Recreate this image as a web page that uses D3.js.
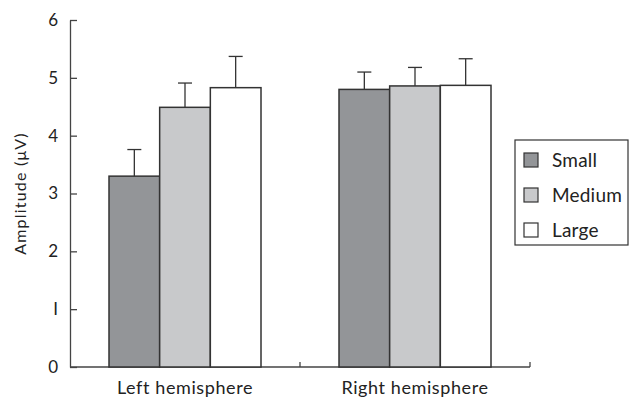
<!DOCTYPE html>
<html>
<head>
<meta charset="utf-8">
<script src="https://cdn.jsdelivr.net/npm/d3@7"></script>
<style>
  body { margin: 0; background: #fff; }
  text { font-family: Lato, "Open Sans", sans-serif; fill: #222; }
</style>
</head>
<body>
<div id="chart"></div>
<script>
// chart data
const hemispheres = ["Left hemisphere", "Right hemisphere"];
const sizes = ["Small", "Medium", "Large"];
const means = [[3.30, 4.49, 4.83], [4.80, 4.86, 4.87]];
const errors = [[0.46, 0.42, 0.54], [0.30, 0.32, 0.46]];
const yTicks = [0, 1, 2, 3, 4, 5, 6];
const fills = ["#939598", "#c8c9cb", "#ffffff"];

const width = 629, height = 398;
const margin = { top: 20, right: 99, bottom: 31, left: 70 };
const innerW = width - margin.left - margin.right;
const innerH = height - margin.top - margin.bottom;

const svg = d3.select("#chart")
  .append("svg")
  .attr("width", width)
  .attr("height", height);

const g = svg.append("g")
  .attr("transform", `translate(${margin.left},${margin.top})`);

// scales
const x0 = d3.scaleBand().domain(hemispheres).range([0, innerW]).padding(0);
const groupW = 152;
const x1 = d3.scaleBand().domain(sizes).range([0, groupW]).padding(0);
const y = d3.scaleLinear().domain([0, 6]).range([innerH, 0]);

// y axis, ticks point inward
const yAxis = g.append("g")
  .call(d3.axisLeft(y).tickValues(yTicks).tickSizeInner(-7).tickSizeOuter(0).tickPadding(12)
    .tickFormat(d => d === 1 ? "I" : d));
yAxis.selectAll("text").style("font-size", "17px").style("font-family", "Lato, sans-serif");
yAxis.selectAll("line, path").attr("stroke", "#444").attr("stroke-width", 1.3);

// x axis line with ticks at band edges
g.append("line")
  .attr("x1", 0).attr("x2", innerW)
  .attr("y1", innerH).attr("y2", innerH)
  .attr("stroke", "#444").attr("stroke-width", 1.3);
g.selectAll(".xtick")
  .data(hemispheres)
  .enter().append("line")
  .attr("class", "xtick")
  .attr("x1", d => x0(d) + x0.bandwidth()).attr("x2", d => x0(d) + x0.bandwidth())
  .attr("y1", innerH).attr("y2", innerH - 5)
  .attr("stroke", "#444").attr("stroke-width", 1.3);

g.selectAll(".xlabel")
  .data(hemispheres)
  .enter().append("text")
  .attr("class", "xlabel")
  .attr("x", d => x0(d) + x0.bandwidth() / 2)
  .attr("y", innerH + 27)
  .attr("text-anchor", "middle")
  .style("font-size", "18px")
  .style("letter-spacing", "0.6px")
  .text(d => d);

// y axis title
svg.append("text")
  .attr("transform", `translate(26,${margin.top + innerH / 2}) rotate(-90)`)
  .attr("text-anchor", "middle")
  .style("font-size", "16px")
  .style("letter-spacing", "1.2px")
  .text("Amplitude (μV)");

// bars
const groups = g.selectAll(".group")
  .data(hemispheres)
  .enter().append("g")
  .attr("class", "group")
  .attr("transform", d => `translate(${x0(d) + (x0.bandwidth() - groupW) / 2},0)`);

groups.each(function(h, hi) {
  const grp = d3.select(this);
  const rows = sizes.map((s, si) => ({ s, si, v: means[hi][si], e: errors[hi][si] }));

  // error bars (drawn first, bar covers the lower part)
  grp.selectAll(".err")
    .data(rows)
    .enter().append("line")
    .attr("x1", d => x1(d.s) + x1.bandwidth() / 2)
    .attr("x2", d => x1(d.s) + x1.bandwidth() / 2)
    .attr("y1", d => y(d.v))
    .attr("y2", d => y(d.v + d.e))
    .attr("stroke", "#333").attr("stroke-width", 1.3);
  grp.selectAll(".cap")
    .data(rows)
    .enter().append("line")
    .attr("x1", d => x1(d.s) + x1.bandwidth() / 2 - 7)
    .attr("x2", d => x1(d.s) + x1.bandwidth() / 2 + 7)
    .attr("y1", d => y(d.v + d.e))
    .attr("y2", d => y(d.v + d.e))
    .attr("stroke", "#333").attr("stroke-width", 1.3);

  grp.selectAll(".bar")
    .data(rows)
    .enter().append("rect")
    .attr("class", "bar")
    .attr("x", d => x1(d.s))
    .attr("y", d => y(d.v))
    .attr("width", x1.bandwidth())
    .attr("height", d => innerH - y(d.v))
    .attr("fill", d => fills[d.si])
    .attr("stroke", "#333")
    .attr("stroke-width", 1.5);
});

// legend
const legend = svg.append("g").attr("transform", "translate(515,140)");
legend.append("rect")
  .attr("width", 113).attr("height", 105)
  .attr("fill", "#fff").attr("stroke", "#333").attr("stroke-width", 1.2);
const items = legend.selectAll(".item")
  .data(sizes)
  .enter().append("g")
  .attr("transform", (d, i) => `translate(9,${13 + i * 35})`);
items.append("rect")
  .attr("width", 14).attr("height", 14)
  .attr("fill", (d, i) => fills[i])
  .attr("stroke", "#333").attr("stroke-width", 1.2);
items.append("text")
  .attr("x", 28).attr("y", 14)
  .style("font-size", "19px")
  .style("letter-spacing", "0.2px")
  .text(d => d);
</script>
</body>
</html>
